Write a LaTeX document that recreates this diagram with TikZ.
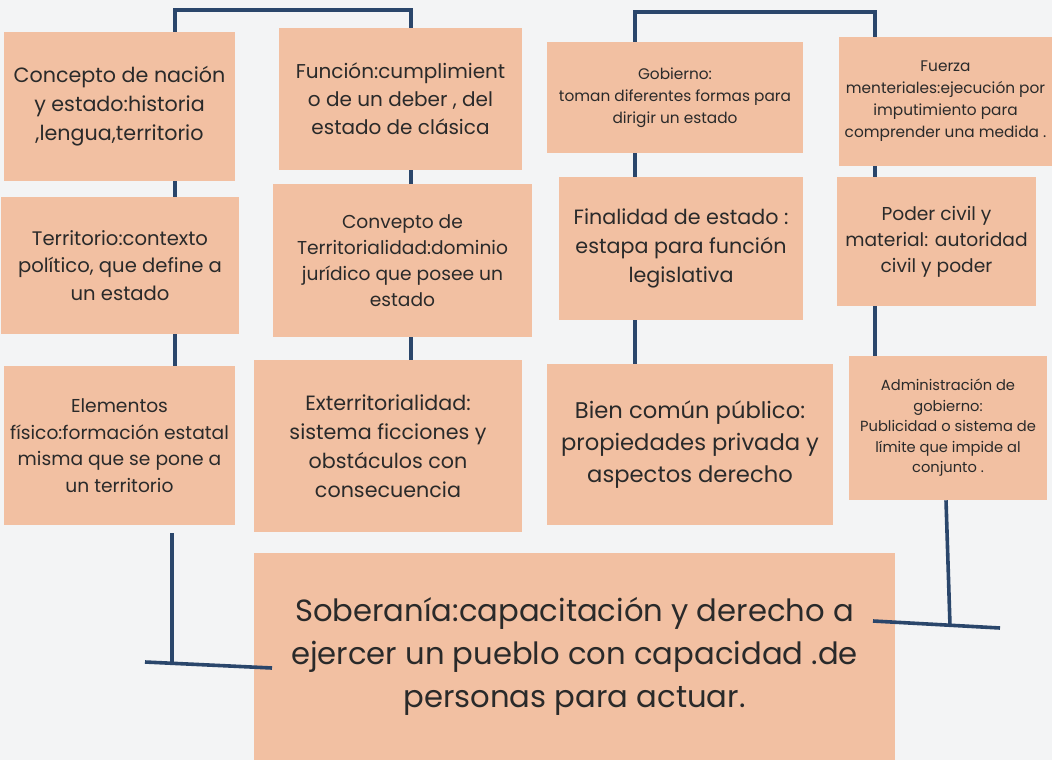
\documentclass[tikz,border=0pt]{standalone}
\usepackage{fontspec}
\setmainfont{Poppins}
\definecolor{fondo}{HTML}{F3F4F5}
\definecolor{salmon}{HTML}{F2C0A2}
\definecolor{azul}{HTML}{2A466B}
\definecolor{tinta}{HTML}{2A2A2A}

\begin{document}
\begin{tikzpicture}[x=0.75pt,y=-0.75pt,
  caja/.style={fill=salmon,inner sep=0pt,align=center,text=tinta},
  medida/.style 2 args={minimum width=#1,minimum height=#2},
  letra/.style 2 args={font=\fontsize{#1}{#2}\selectfont},
  linea/.style={draw=azul,line width=2.7pt}]

\fill[fondo] (0,0) rectangle (1052,760);
\useasboundingbox (0,0) rectangle (1052,760);

% primera fila
\node[caja,medida={173.25pt}{111.75pt},letra={15.5}{21.75}] (nacion) at (119.5,106.5)
  {Concepto de nación\\ y estado:historia\\ ,lengua,territorio};
\node[caja,medida={182.25pt}{106.5pt},letra={15}{21}] (funcion) at (400.5,99)
  {Función:cumplimient\\ o de un deber , del\\ estado de clásica};
\node[caja,medida={192pt}{83.25pt},letra={11.5}{16.5}] (gobierno) at (675,97.5)
  {Gobierno:\\ toman diferentes formas para\\ dirigir un estado};
\node[caja,medida={159.75pt}{96.75pt},letra={11.5}{16.5}] (fuerza) at (945.5,101.5)
  {Fuerza\\ menteriales:ejecución por\\ imputimiento para\\ comprender una medida .};

% segunda fila
\node[caja,medida={178.5pt}{102.75pt},letra={14.7}{20.6}] (territorio) at (120,265.5)
  {Territorio:contexto\\ político, que define a\\ un estado};
\node[caja,medida={194.25pt}{114.75pt},letra={14}{19.5}] (convepto) at (402.5,260.5)
  {Convepto de\\ Territorialidad:dominio\\ jurídico que posee un\\ estado};
\node[caja,medida={183pt}{107.25pt},letra={15.5}{21.75}] (finalidad) at (681,248.5)
  {Finalidad de estado :\\ estapa para función\\ legislativa};
\node[caja,medida={149.25pt}{96.75pt},letra={14}{19.5}] (poder) at (936.5,241.5)
  {Poder civil y\\ material: autoridad\\ civil y poder};

% tercera fila
\node[caja,medida={173.25pt}{119.25pt},letra={14}{19.9}] (elementos) at (119.5,445.5)
  {Elementos\\ físico:formación estatal\\ misma que se pone a\\ un territorio};
\node[caja,medida={201pt}{129pt},letra={15.5}{21.75}] (exterritorialidad) at (388,446)
  {Exterritorialidad:\\ sistema ficciones y\\ obstáculos con\\ consecuencia};
\node[caja,medida={214.5pt}{120.75pt},letra={17}{24}] (bien) at (690,444.5)
  {Bien común público:\\ propiedades privada y\\ aspectos derecho};
\node[caja,medida={148.5pt}{108pt},letra={11}{15.4}] (administracion) at (948,428)
  {Administración de\\ gobierno:\\ Publicidad o sistema de\\ límite que impide al\\ conjunto .};

% caja final
\node[caja,medida={480.75pt}{155.25pt},letra={23}{32.25}] (soberania) at (574.5,656.5)
  {Soberanía:capacitación y derecho a\\ ejercer un pueblo con capacidad .de\\ personas para actuar.};

% columnas
\coordinate (tA) at (175,10);
\coordinate (tB) at (411,10);
\coordinate (tC) at (635,12);
\coordinate (tD) at (875,12);

\draw[linea] (nacion.north -| tA) -- (tA) -- (tB) -- (funcion.north -| tB);
\draw[linea] (gobierno.north -| tC) -- (tC) -- (tD) -- (fuerza.north -| tD);

\draw[linea] (nacion.south -| tA) -- (territorio.north -| tA);
\draw[linea] (territorio.south -| tA) -- (elementos.north -| tA);
\draw[linea] (funcion.south -| tB) -- (convepto.north -| tB);
\draw[linea] (convepto.south -| tB) -- (exterritorialidad.north -| tB);
\draw[linea] (gobierno.south -| tC) -- (finalidad.north -| tC);
\draw[linea] (finalidad.south -| tC) -- (bien.north -| tC);
\draw[linea] (fuerza.south -| tD) -- (poder.north -| tD);
\draw[linea] (poder.south -| tD) -- (administracion.north -| tD);

% llegadas a la soberania
\coordinate (codoI) at (172,663);
\coordinate (puntaI) at (145,662);
\coordinate (entraI) at (272,668);
\draw[linea,shorten <=6pt] (elementos.south -| codoI) -- (codoI);
\draw[linea] (puntaI) -- (entraI);

\coordinate (pieD) at (946,0);
\coordinate (codoD) at (950,626);
\coordinate (entraD) at (873,621);
\coordinate (puntaD) at (1000,628);
\draw[linea] (administracion.south -| pieD) -- (codoD);
\draw[linea] (entraD) -- (puntaD);

\end{tikzpicture}
\end{document}
